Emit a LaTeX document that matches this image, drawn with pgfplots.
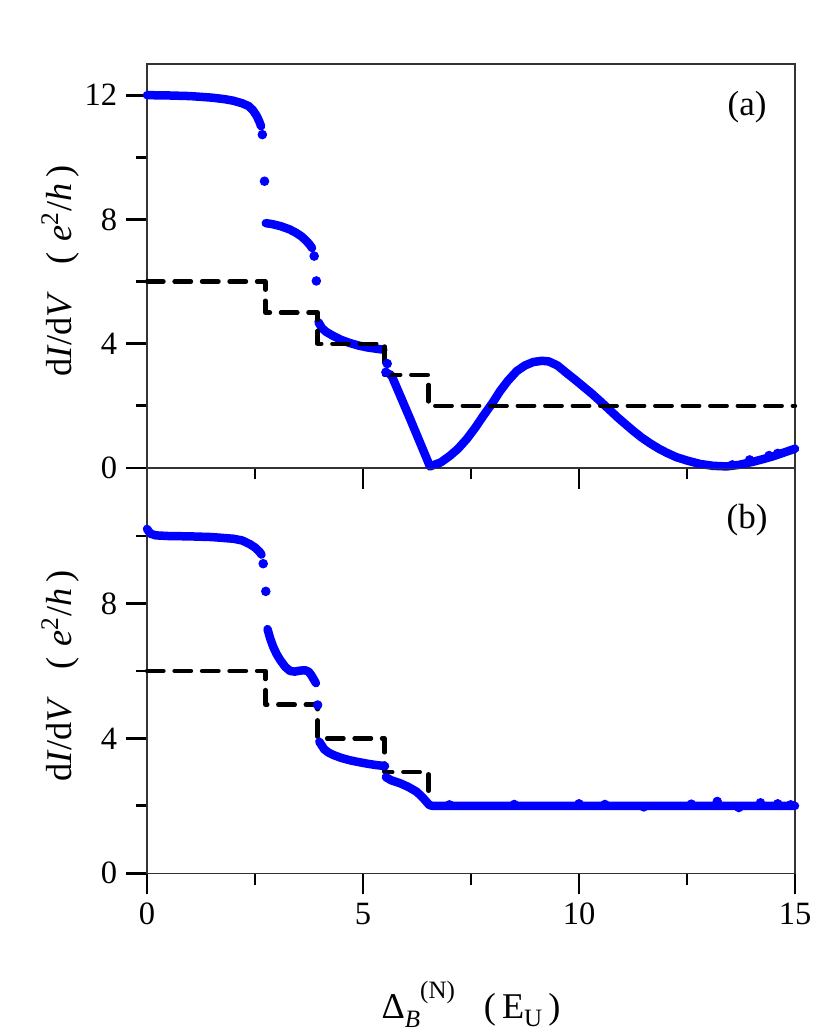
\documentclass[border=0pt]{standalone}
\usepackage{fontspec}
\setmainfont{Liberation Serif}
\usepackage{pgfplots}
\pgfplotsset{compat=1.18}
\begin{document}
\begin{tikzpicture}[x=1pt,y=1pt]
\path[use as bounding box] (0,0) rectangle (332,414);
\pgfplotsset{
 base/.style={
  scale only axis, width=259.2pt, xmin=0, xmax=15, clip=false,
  anchor=south west,
  tick align=outside, tick pos=left,
  major tick length=8.4pt, minor tick length=4.6pt,
  tick style={black, line width=1.1pt},
  axis line style={line width=0.6pt, black!80},
  xtick={0,5,10,15}, minor xtick={2.5,7.5,12.5},
  minor ytick={2,6,10},
  ticklabel style={font=\fontsize{13}{15}\selectfont},
  /pgf/number format/assume math mode=true,
  ylabel={d\textit{I}/d\textit{V}\hspace{0.75em}(\hspace{0.3em}\textit{e}\textsuperscript{2}/\textit{h}\hspace{0.15em})},
  every axis y label/.style={at={(axis description cs:-0.134,0.487)}, rotate=90, anchor=center, font=\fontsize{14.5}{16}\selectfont},
 },
 blueline/.style={blue, line width=3.4pt, line cap=round, line join=round, mark=none},
 bluedots/.style={blue, only marks, mark=*, mark size=1.7pt, mark options={draw=blue, fill=blue}},
 steps/.style={black, line width=1.75pt, dash pattern=on 6.6pt off 4.4pt, line cap=round, line join=round, mark=none},
}
% ---------------- panel (a)
\begin{axis}[base, at={(58.8pt,226.8pt)}, height=161.56pt,
  ymin=0, ymax=13, ytick={0,4,8,12}, xticklabels={}]
\addplot[blueline] coordinates {(0,12.0) (0.5,11.99) (1.0,11.97) (1.5,11.92) (1.8,11.87) (2.0,11.82) (2.2,11.74) (2.35,11.65) (2.45,11.52) (2.54,11.33) (2.6,11.15) (2.64,11.0)};
\addplot[bluedots] coordinates {(2.67,10.73) (2.72,9.23)};
\addplot[blueline] coordinates {(2.75,7.88) (2.9,7.85) (3.1,7.78) (3.3,7.68) (3.45,7.57) (3.58,7.45) (3.68,7.32) (3.76,7.2) (3.82,7.08)};
\addplot[bluedots] coordinates {(3.87,6.82) (3.92,6.02)};
\addplot[blueline] coordinates {(3.97,4.69) (4.05,4.5) (4.15,4.38) (4.31,4.25) (4.5,4.12) (4.7,4.02) (4.9,3.94) (5.1,3.88) (5.3,3.84) (5.47,3.81)};
\addplot[bluedots] coordinates {(5.56,3.36) (5.53,3.08)};
\addplot[blueline] coordinates {(5.62,3.02) (5.67,2.95) (6.1,1.55) (6.55,0.05) (6.8,0.18) (7.01,0.39) (7.2,0.62) (7.4,0.93) (7.6,1.3) (7.78,1.67) (8.0,2.1) (8.17,2.47) (8.35,2.8) (8.56,3.12) (8.75,3.3) (8.94,3.41) (9.14,3.45) (9.3,3.43) (9.5,3.3) (9.71,3.06) (9.9,2.85) (10.1,2.62) (10.3,2.39) (10.49,2.15) (10.7,1.88) (10.9,1.62) (11.1,1.38) (11.26,1.19) (11.45,0.98) (11.65,0.79) (11.85,0.62) (12.03,0.49) (12.25,0.35) (12.5,0.24) (12.8,0.13) (13.1,0.07) (13.42,0.05) (13.7,0.1) (14.03,0.2) (14.3,0.3) (14.5,0.38) (14.75,0.5) (15.0,0.62)};
\addplot[bluedots] coordinates {(13.55,0.1) (13.95,0.26) (14.4,0.4) (14.6,0.47)};
\addplot[steps] coordinates {(0,6) (2.74,6) (2.74,5) (3.95,5) (3.95,4) (5.5,4) (5.5,3) (6.52,3) (6.52,2) (15,2)};
\node[font=\fontsize{14}{15}\selectfont] at (axis description cs:0.926,0.893) {(a)};
\end{axis}
% ---------------- panel (b)
\begin{axis}[base, at={(58.8pt,64.68pt)}, height=161.88pt,
  ymin=0, ymax=12, ytick={0,4,8},
  xlabel={\textup{Δ}\raisebox{-0.55ex}{\fontsize{10}{10}\selectfont\textit{B}}\raisebox{1.15ex}{\fontsize{10}{10}\selectfont (N)}\hspace{0.8em}(\,E\raisebox{-0.5ex}{\fontsize{10}{10}\selectfont U}\,)},
  every axis x label/.style={at={(axis description cs:0.5,-0.3576)}, anchor=base, font=\fontsize{14.5}{16}\selectfont}]
\addplot[steps] coordinates {(0,6) (2.74,6) (2.74,5) (3.95,5) (3.95,4) (5.5,4) (5.5,3) (6.52,3) (6.52,2) (15,2)};
\addplot[blueline] coordinates {(0,10.21) (0.08,10.07) (0.2,10.02) (0.5,10.0) (1.0,9.99) (1.5,9.97) (2.0,9.92) (2.2,9.87) (2.38,9.76) (2.5,9.66) (2.6,9.54) (2.65,9.45)};
\addplot[bluedots] coordinates {(2.69,9.18) (2.75,8.36)};
\addplot[blueline] coordinates {(2.79,7.24) (2.85,6.97) (2.92,6.72) (3.0,6.5) (3.08,6.33) (3.2,6.12) (3.31,6.0) (3.42,5.98) (3.54,6.01) (3.66,6.02) (3.74,5.98) (3.8,5.88) (3.86,5.75) (3.91,5.64)};
\addplot[bluedots] coordinates {(3.95,4.99)};
\addplot[blueline] coordinates {(3.99,3.9) (4.1,3.68) (4.2,3.58) (4.31,3.51) (4.5,3.42) (4.7,3.35) (4.85,3.31) (5.1,3.25) (5.3,3.21) (5.51,3.18)};
\addplot[blueline] coordinates {(5.53,2.85) (5.65,2.76) (5.86,2.67) (6.05,2.56) (6.24,2.42) (6.38,2.25) (6.47,2.12) (6.53,2.03) (6.6,2.0) (8,2.0) (10,2.0) (12,2.0) (15,2.0)};
\addplot[bluedots] coordinates {(7.0,2.03) (8.5,2.04) (10.0,2.06) (10.6,2.04) (11.5,1.97) (12.6,2.05) (13.2,2.13) (13.7,1.95) (14.2,2.09) (14.6,2.06) (14.9,2.03)};
\node[font=\fontsize{14}{15}\selectfont] at (axis description cs:0.926,0.873) {(b)};
\end{axis}
\end{tikzpicture}
\end{document}
